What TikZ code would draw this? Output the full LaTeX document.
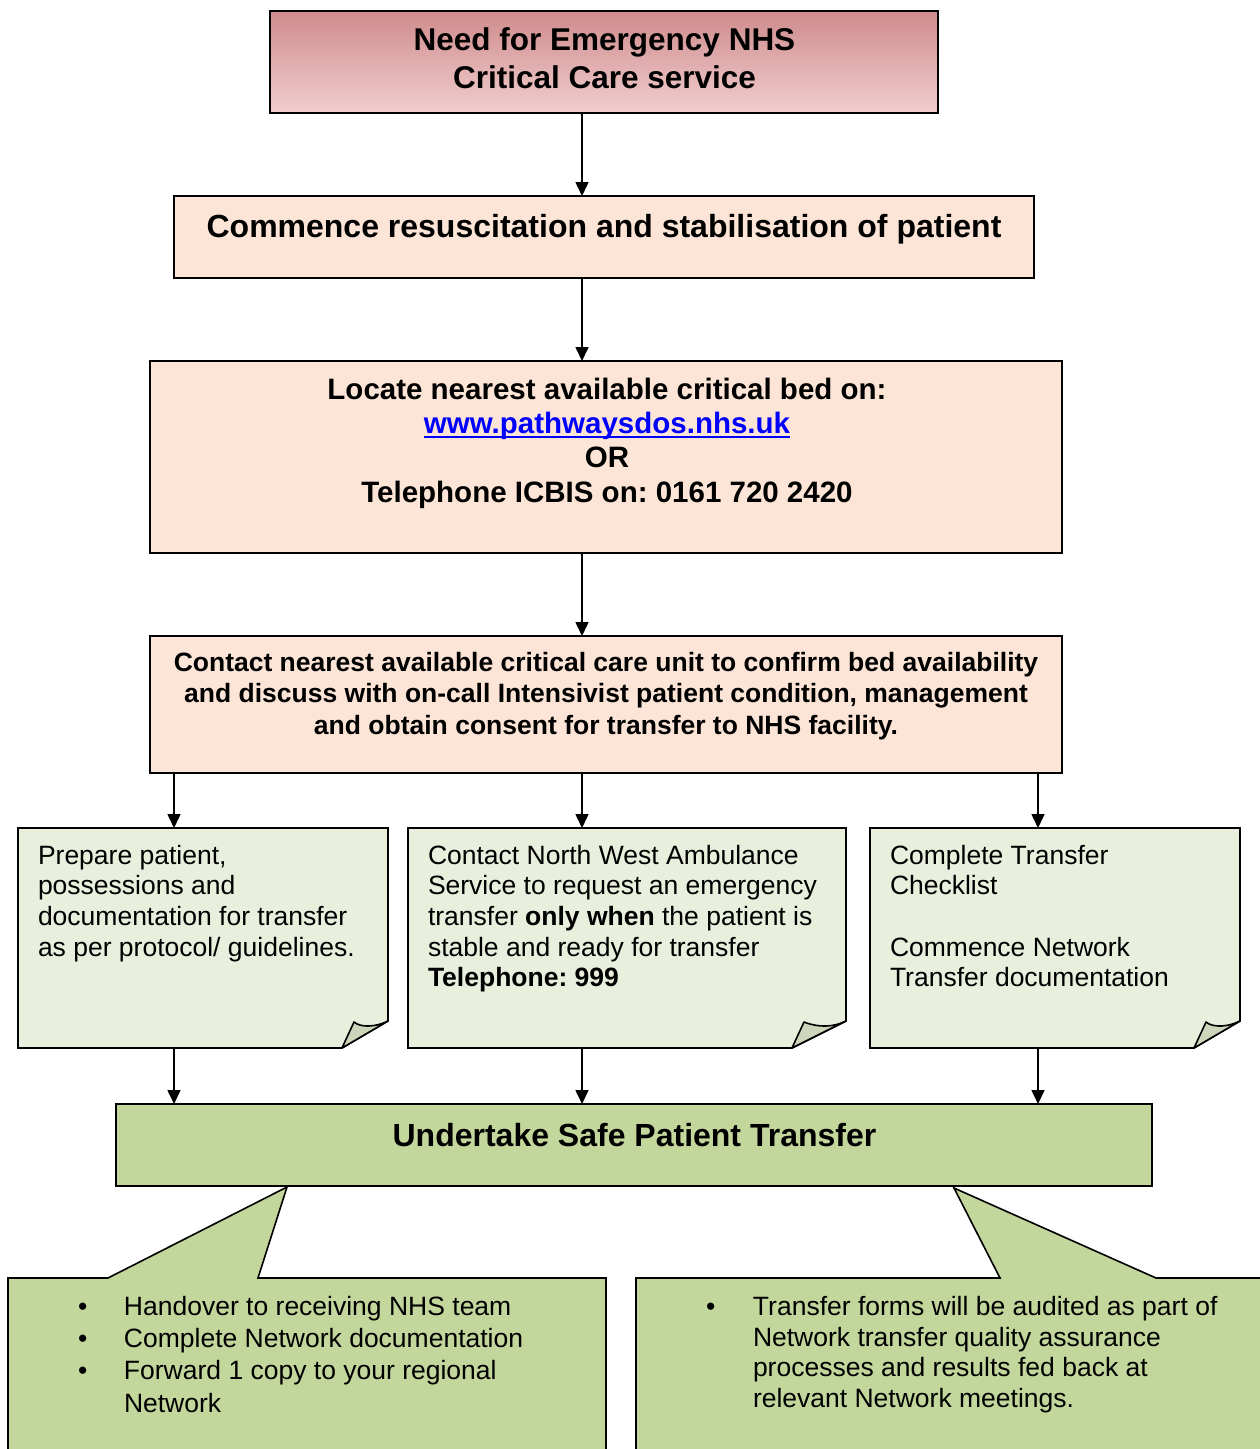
\documentclass[tikz,border=0pt]{standalone}
\usepackage{fontspec}
\setmainfont{Liberation Sans}
\usetikzlibrary{arrows.meta}
\definecolor{topA}{RGB}{207,139,140}
\definecolor{topB}{RGB}{241,206,206}
\definecolor{peach}{RGB}{252,229,214}
\definecolor{notefill}{RGB}{232,239,220}
\definecolor{flapfill}{RGB}{205,214,186}
\definecolor{greenfill}{RGB}{195,214,155}
\definecolor{linkblue}{RGB}{0,0,255}
\newcommand\ulnk[1]{\setbox0\hbox{#1}\rlap{\rule[-4.5pt]{\wd0}{2.6pt}}\box0}
\frenchspacing
\begin{document}
\begin{tikzpicture}[x=1pt,y=-1pt,
  boxst/.style={draw=black,line width=1.6pt,inner sep=0pt,outer sep=0pt},
  holder/.style={inner sep=0pt,outer sep=0pt},
  arr/.style={line width=1.6pt,-{Triangle[length=14pt,width=13pt]}},
  txt/.style={inner sep=0pt,outer sep=0pt},
  notebox/.style={draw=black,line width=1.6pt,fill=notefill},
  flap/.style={draw=black,line width=1.6pt,fill=flapfill,line join=round},
  callout/.style={draw=black,line width=1.6pt,fill=greenfill}]
\useasboundingbox (0,0) rectangle (1260,1449);
\fill[white] (0,0) rectangle (1260,1449);

% x positions of connectors
\coordinate (xl) at (174,0);
\coordinate (xm) at (582,0);
\coordinate (xr) at (1038,0);

% main boxes
\node[boxst,top color=topA,bottom color=topB,minimum width=668,minimum height=102] (n1) at (604,62) {};
\node[boxst,fill=peach,minimum width=860,minimum height=82] (n2) at (604,237) {};
\node[boxst,fill=peach,minimum width=912,minimum height=192] (n3) at (606,457) {};
\node[boxst,fill=peach,minimum width=912,minimum height=137] (n4) at (606,704.5) {};
\node[boxst,fill=greenfill,minimum width=1036,minimum height=82] (n5) at (634,1145) {};

% note holders
\node[holder,minimum width=370,minimum height=220] (nA) at (203,938) {};
\node[holder,minimum width=438,minimum height=220] (nB) at (627,938) {};
\node[holder,minimum width=370,minimum height=220] (nC) at (1055,938) {};

\foreach \n/\w in {nA/46,nB/54,nC/46}{
  \draw[notebox] (\n.north west) -- (\n.north east) -- ([yshift=27pt]\n.south east)
     -- ([xshift=-\w pt]\n.south east) -- (\n.south west) -- cycle;
  \draw[flap] ([xshift=-\w pt]\n.south east) -- ([xshift=-\w pt+12pt,yshift=26pt]\n.south east)
     .. controls ([xshift=-27pt,yshift=20pt]\n.south east) and ([xshift=-12pt,yshift=21pt]\n.south east)
     .. ([yshift=27pt]\n.south east) -- cycle;
}

% texts
\node[txt,anchor=north,align=center,font=\fontsize{31.5}{38}\selectfont\bfseries] (t1) at (604.5,28)
  {Need for Emergency NHS\\Critical Care service};
\node[txt,anchor=north,font=\fontsize{32}{38}\selectfont\bfseries] (t2) at (604,214)
  {Commence resuscitation and stabilisation of patient};
\node[txt,anchor=north,align=center,font=\fontsize{29.5}{34.3}\selectfont\bfseries] (t3) at (607,378)
  {Locate nearest available critical bed on:\\
   \textcolor{linkblue}{\ulnk{www.pathwaysdos.nhs.uk}}\\
   OR\\
   Telephone ICBIS on: 0161 720 2420};
\node[txt,anchor=north,align=center,font=\fontsize{26.5}{31.5}\selectfont\bfseries] (t4) at (606,652)
  {Contact nearest available critical care unit to confirm bed availability\\
   and discuss with on-call Intensivist patient condition, management\\
   and obtain consent for transfer to NHS facility.};
\node[txt,anchor=north west,align=left,font=\fontsize{26.5}{30.6}\selectfont] (tA) at (38,845)
  {Prepare patient,\\possessions and\\documentation for transfer\\as per protocol/ guidelines.};
\node[txt,anchor=north west,align=left,font=\fontsize{26.5}{30.6}\selectfont] (tB) at (428,845)
  {Contact North West Ambulance\\Service to request an emergency\\transfer \textbf{only when} the patient is\\stable and ready for transfer\\\textbf{Telephone: 999}};
\node[txt,anchor=north west,align=left,font=\fontsize{26.5}{30.6}\selectfont] (tC) at (890,845)
  {Complete Transfer\\Checklist\\[30.6pt]Commence Network\\Transfer documentation};
\node[txt,anchor=north,font=\fontsize{32}{38}\selectfont\bfseries] (t5) at (634.5,1123)
  {Undertake Safe Patient Transfer};

% connectors
\draw[arr] (n1.south -| xm) -- (n2.north -| xm);
\draw[arr] (n2.south -| xm) -- (n3.north -| xm);
\draw[arr] (n3.south -| xm) -- (n4.north -| xm);
\draw[arr] (n4.south -| xl) -- (nA.north -| xl);
\draw[arr] (n4.south -| xm) -- (nB.north -| xm);
\draw[arr] (n4.south -| xr) -- (nC.north -| xr);
\draw[arr] (nA.south -| xl) -- (n5.north -| xl);
\draw[arr] (nB.south -| xm) -- (n5.north -| xm);
\draw[arr] (nC.south -| xr) -- (n5.north -| xr);

% callouts
\draw[callout] (8,1278) -- (108,1278) -- (287,1187) -- (258,1278) -- (606,1278)
   -- (606,1475) -- (8,1475) -- cycle;
\draw[callout] (636,1278) -- (1000,1278) -- (954,1188) -- (1156,1278) -- (1280,1278)
   -- (1280,1475) -- (636,1475) -- cycle;

\node[txt,anchor=north west,align=left,font=\fontsize{26.5}{32.3}\selectfont] (tL) at (78,1296)
  {\makebox[46pt][l]{•}Handover to receiving NHS team\\
   \makebox[46pt][l]{•}Complete Network documentation\\
   \makebox[46pt][l]{•}Forward 1 copy to your regional\\
   \makebox[46pt][l]{}Network};
\node[txt,anchor=north west,align=left,font=\fontsize{26.5}{30.8}\selectfont] (tR) at (706,1296)
  {\makebox[47pt][l]{•}Transfer forms will be audited as part of\\
   \makebox[47pt][l]{}Network transfer quality assurance\\
   \makebox[47pt][l]{}processes and results fed back at\\
   \makebox[47pt][l]{}relevant Network meetings.};
\end{tikzpicture}
\end{document}
